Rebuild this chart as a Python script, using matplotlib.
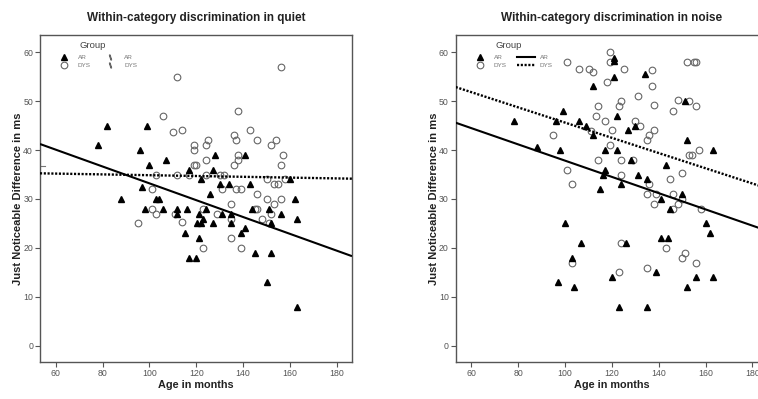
import numpy as np
import matplotlib
matplotlib.use("Agg")
import matplotlib.pyplot as plt
from matplotlib.lines import Line2D

plt.rcParams['font.family'] = ['Liberation Sans', 'DejaVu Sans']

# ---------------- data ----------------
titles = ["Within-category discrimination in quiet",
          "Within-category discrimination in noise"]
x_label = "Age in months"
y_label = "Just Noticeable Difference in ms"
groups = ["AR", "DYS"]
x_ticks = [60, 80, 100, 120, 140, 160, 180]
y_ticks = [0, 10, 20, 30, 40, 50, 60]

# Quiet condition
quiet_ar_age = [78, 82, 99, 96, 100, 107, 97, 88, 103, 104, 117, 122, 128, 127, 126,
                130, 134, 141, 143, 160, 162,
                98, 106, 112, 112, 116, 121, 120.5, 122, 123, 124, 127, 131, 135, 135,
                115, 121, 139, 141, 144, 117, 120, 145, 152, 151, 152, 156, 163, 150, 163]
quiet_ar_jnd = [41, 45, 45, 40, 37, 38, 32.5, 30, 30, 30, 36, 34, 39, 36, 31,
                33, 33, 39, 33, 34, 30,
                28, 28, 28, 27, 28, 27, 25, 25, 26, 28, 25, 27, 27, 25,
                23, 22, 23, 24, 28, 18, 18, 19, 19, 28, 25, 27, 26, 13, 8]
quiet_dys_age = [112, 156, 106, 110, 114, 138, 119, 119, 125, 124, 136, 137, 143, 146,
                 154, 152, 157, 156, 138, 138, 136, 124, 119, 120, 103, 112, 117, 124,
                 130, 132, 101, 131, 137, 139, 146, 150, 153, 155, 158, 150, 156, 153,
                 95, 101, 103, 111, 114, 123, 129, 135, 135, 135, 123, 139, 145, 146,
                 148, 151, 152]
quiet_dys_jnd = [55, 57, 47, 43.7, 44, 48, 41, 40, 42, 41, 43, 42, 44, 42,
                 42, 41, 39, 37, 39, 38, 37, 38, 37, 37, 35, 35, 35, 35,
                 35, 35, 32, 32, 32, 32, 31, 34, 33, 33, 34, 30, 30, 29,
                 25, 28, 27, 27, 25.4, 28, 27, 29, 26, 22, 20, 20, 28, 28,
                 26, 25, 27]
quiet_fit_intercept = {"AR": 50.4, "DYS": 35.68}
quiet_fit_slope = {"AR": -0.172, "DYS": -0.0082}
quiet_axis_mark = [36.8]

# Noise condition
noise_ar_age = [78, 88, 96, 99, 98, 106, 109, 112, 112, 115, 116, 117, 117, 121, 121,
                121, 122, 122, 124, 127, 128, 130, 131, 134, 135, 141, 143, 150, 151,
                152, 163,
                145, 100, 107, 103, 97, 104, 120, 126, 123, 135, 139, 141, 144, 152,
                156, 160, 162, 163]
noise_ar_jnd = [46, 40.6, 46, 48, 40, 46, 45, 43, 53, 32, 35, 36, 40, 58.7, 58.1,
                55, 47, 40, 33, 44, 38, 45, 35, 55.6, 34, 30, 37, 31, 50,
                42, 40,
                28, 25, 21, 18, 13, 12, 14, 21, 8, 7.9, 15, 22, 22, 12,
                14, 25, 23, 14]
noise_dys_age = [119, 119, 101, 106, 110, 112, 125, 137, 118, 137, 152, 155, 156, 114,
                 124, 123, 131, 138, 148, 153, 156, 146, 113, 117, 130, 132, 95, 111,
                 120, 136, 135, 138, 119, 114, 124, 129, 153, 154, 157, 101, 103, 124,
                 136, 135, 139, 145, 150, 146, 150,
                 138, 148, 146, 158, 103, 124, 123, 135, 143, 150, 151, 156]
noise_dys_jnd = [60, 58, 58, 56.5, 56.5, 56, 56.5, 56.4, 54, 53, 58, 58, 58, 49,
                 50, 49, 51, 49.3, 50.3, 50, 49, 48, 47, 46, 46, 45, 43, 43.8,
                 44, 43, 42, 44, 41, 38, 38, 38, 39, 39, 40, 36, 33, 35,
                 33, 31, 31, 34, 35.3, 31, 30,
                 29, 29, 28, 28, 17, 21, 15, 16, 20, 18, 19, 17]
noise_fit_intercept = {"AR": 54.43, "DYS": 61.15}
noise_fit_slope = {"AR": -0.166, "DYS": -0.1555}

# ---------------- styling ----------------
W, H = 758, 399
fig = plt.figure(figsize=(W / 100, H / 100), dpi=100)

ax_w, ax_h = 312, 327
ax_top = 35
lefts = [40, 455.7]
xlim = (53.3, 186.5)
ylim = (-3.3, 63.5)

tick_color = '#555555'
spine_color = '#555555'
circle_edge = '#666666'

panels = [
    (quiet_ar_age, quiet_ar_jnd, quiet_dys_age, quiet_dys_jnd,
     quiet_fit_intercept, quiet_fit_slope),
    (noise_ar_age, noise_ar_jnd, noise_dys_age, noise_dys_jnd,
     noise_fit_intercept, noise_fit_slope),
]

for i, (ar_x, ar_y, dys_x, dys_y, b0, b1) in enumerate(panels):
    ax = fig.add_axes([lefts[i] / W, 1 - (ax_top + ax_h) / H, ax_w / W, ax_h / H])
    ax.set_xlim(*xlim)
    ax.set_ylim(*ylim)

    ax.plot(dys_x, dys_y, linestyle='none', marker='o', markersize=4.8,
            markerfacecolor='none', markeredgecolor=circle_edge, markeredgewidth=0.8,
            zorder=3)
    ax.plot(ar_x, ar_y, linestyle='none', marker='^', markersize=4.4,
            color='black', zorder=4)

    xs = np.array(xlim)
    ax.plot(xs, b0["AR"] + b1["AR"] * xs, color='black', linewidth=1.5, zorder=5,
            solid_capstyle='butt')
    ax.plot(xs, b0["DYS"] + b1["DYS"] * xs, color='black', linewidth=1.7,
            linestyle=(0, (0.9, 0.7)), zorder=5)

    if i == 0:
        for v in quiet_axis_mark:
            ax.axhline(v, xmin=0, xmax=0.016, color='#777777', linewidth=0.8)

    ax.set_xticks(x_ticks)
    ax.set_yticks(y_ticks)
    ax.tick_params(axis='both', colors=tick_color, labelsize=6.3, width=0.8,
                   length=3.5, pad=1.5, labelcolor=tick_color)
    for sp in ax.spines.values():
        sp.set_color(spine_color)
        sp.set_linewidth(1.0)

    ax.set_title(titles[i], fontsize=8.5, fontweight='bold', color='#222222', pad=10)
    ax.set_xlabel(x_label, fontsize=7.8, fontweight='bold', color='#222222')
    ax.xaxis.set_label_coords(0.5, -18 / ax_h)
    ax.set_ylabel(y_label, fontsize=8.0, fontweight='bold', color='#222222')
    ax.yaxis.set_label_coords(-17 / ax_w, 0.5)

    # legend
    ax.text(40 / ax_w, 1 - 10 / ax_h, "Group", transform=ax.transAxes,
            fontsize=6.8, color='#444444', ha='left', va='center')
    h_tri = Line2D([], [], linestyle='none', marker='^', markersize=4.4, color='black')
    h_circ = Line2D([], [], linestyle='none', marker='o', markersize=4.8,
                    markerfacecolor='none', markeredgecolor=circle_edge,
                    markeredgewidth=0.8)
    if i == 0:
        h_ar = Line2D([], [], linestyle='none', marker=r'$\backslash$', markersize=3.5,
                      color='#666666')
        h_dys = Line2D([], [], linestyle='none', marker=r'$\backslash$', markersize=3.5,
                       color='#666666')
    else:
        h_ar = Line2D([], [], color='black', linewidth=1.5)
        h_dys = Line2D([], [], color='black', linewidth=1.7, linestyle=(0, (0.9, 0.7)))
    leg = ax.legend([h_tri, h_circ, h_ar, h_dys], groups + groups, ncol=2,
                    loc='upper left', bbox_to_anchor=(15 / ax_w, 1 - 20 / ax_h),
                    frameon=False, fontsize=4.6, borderpad=0, borderaxespad=0,
                    handlelength=2.9, handletextpad=0.7, columnspacing=1.6,
                    labelspacing=0.35, labelcolor='#777777')

fig.savefig("out.png", dpi=100)
